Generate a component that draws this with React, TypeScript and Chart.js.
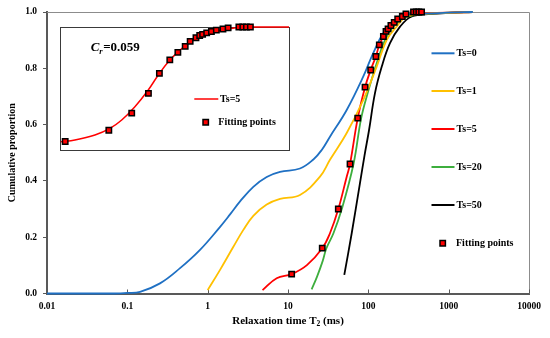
import React, { useEffect, useRef } from 'react';
import { Chart, registerables } from 'chart.js';

Chart.register(...registerables);

const FONT = "'Liberation Serif', 'Times New Roman', serif";

// ---- series labels / colours ----
const seriesLabels = ['Ts=0', 'Ts=1', 'Ts=5', 'Ts=20', 'Ts=50'];
const seriesColors = ['#1F70C3', '#FFC000', '#FF0000', '#3DAE3D', '#000000'];
const fitLabel = 'Fitting points';

// ---- Ts=0 ----
const ts0X = [0.01, 0.03, 0.07, 0.1, 0.144, 0.255, 0.453, 0.803, 1.42, 1.9, 2.53, 3.7, 5.43, 7.96, 14.1, 20.7, 26.3, 33.3, 53.8, 86.6, 115, 154, 205, 300, 500, 1000, 2000];
const ts0Y = [0, 0, 0, 0.002, 0.006, 0.036, 0.09, 0.155, 0.236, 0.281, 0.327, 0.379, 0.414, 0.432, 0.444, 0.476, 0.51, 0.557, 0.652, 0.771, 0.854, 0.925, 0.96, 0.99, 0.994, 0.998, 1.0];

// ---- Ts=1 ----
const ts1X = [1.0, 1.42, 2.08, 2.78, 3.7, 5.43, 7.96, 14.1, 25, 33.3, 53.8, 86.6, 127, 169, 225, 300, 500, 1000, 2000];
const ts1Y = [0.012, 0.083, 0.165, 0.226, 0.276, 0.316, 0.336, 0.35, 0.415, 0.475, 0.57, 0.688, 0.806, 0.9, 0.948, 0.984, 0.993, 0.997, 1.0];

// ---- Ts=5 ----
const ts5X = [4.82, 7.23, 11.1, 17.2, 26.7, 33.3, 42.3, 53.8, 59.2, 73.8, 91, 107, 124, 137, 154, 176, 210, 265, 350, 500, 1000, 2000];
const ts5Y = [0.012, 0.054, 0.069, 0.101, 0.161, 0.214, 0.30, 0.415, 0.46, 0.623, 0.733, 0.794, 0.842, 0.883, 0.913, 0.94, 0.963, 0.984, 0.993, 0.995, 0.998, 1.0];

// ---- Ts=20 ----
const ts20X = [19.7, 23, 27, 30, 36.8, 46.7, 65.4, 81.5, 100, 127, 161, 205, 286, 500, 1000, 2000];
const ts20Y = [0.015, 0.06, 0.115, 0.16, 0.214, 0.30, 0.46, 0.623, 0.72, 0.818, 0.9, 0.948, 0.98, 0.993, 0.998, 1.0];

// ---- Ts=50 ----
const ts50X = [50.2, 62.1, 78.7, 89.6, 102, 121, 147, 186, 248, 347, 600, 1000, 2000];
const ts50Y = [0.066, 0.214, 0.392, 0.49, 0.58, 0.712, 0.806, 0.889, 0.948, 0.984, 0.993, 0.997, 1.0];

// ---- fitting points ----
const fitX = [11.1, 26.7, 42.3, 59.2, 73.8, 91, 107, 124, 137, 154, 166, 176, 191, 210, 232, 265, 294, 365, 395, 425, 460];
const fitY = [0.069, 0.161, 0.30, 0.46, 0.623, 0.733, 0.794, 0.842, 0.883, 0.913, 0.931, 0.94, 0.952, 0.963, 0.975, 0.984, 0.993, 1, 1, 1, 1];

// ---- inset fitted curve (Ts=5) ----
const insetX = [10.2, 13.5, 20.2, 27.3, 34.6, 45.1, 59, 72.2, 88.4, 108, 132, 172, 225, 295, 386, 505, 1000];
const insetY = [0.067, 0.081, 0.122, 0.176, 0.244, 0.352, 0.488, 0.61, 0.718, 0.80, 0.867, 0.927, 0.962, 0.984, 0.998, 1.0, 1.0];
const insetCrText = '=0.059';

// ---- ticks / titles ----
const xTickValues = [0.01, 0.1, 1, 10, 100, 1000, 10000];
const xTickLabels = ['0.01', '0.1', '1', '10', '100', '1000', '10000'];
const yTickValues = [0, 0.2, 0.4, 0.6, 0.8, 1.0];
const yTickLabels = ['0.0', '0.2', '0.4', '0.6', '0.8', '1.0'];
const yTitle = 'Cumulative proportion';
const xTitleParts = ['Relaxation time T', '2', ' (ms)'];

const seriesX = [ts0X, ts1X, ts5X, ts20X, ts50X];
const seriesY = [ts0Y, ts1Y, ts5Y, ts20Y, ts50Y];

const toPts = (xs: number[], ys: number[]) => xs.map((x, i) => ({ x, y: ys[i] }));

const AXIS = '#595959';

function drawSquare(ctx: CanvasRenderingContext2D, x: number, y: number, side: number) {
  ctx.save();
  ctx.fillStyle = '#FF0000';
  ctx.strokeStyle = '#000';
  ctx.lineWidth = 1.5;
  ctx.beginPath();
  ctx.rect(x - side / 2, y - side / 2, side, side);
  ctx.fill();
  ctx.stroke();
  ctx.restore();
}

const mainDecor = {
  id: 'mainDecor',
  beforeDatasetsDraw(chart: any) {
    const { ctx, chartArea: a, scales } = chart;
    ctx.save();
    ctx.strokeStyle = '#8c8c8c';
    ctx.lineWidth = 1;
    ctx.beginPath();
    ctx.moveTo(a.left, Math.round(a.top) + 0.5);
    ctx.lineTo(Math.round(a.right) + 0.5, Math.round(a.top) + 0.5);
    ctx.lineTo(Math.round(a.right) + 0.5, a.bottom);
    ctx.stroke();
    ctx.strokeStyle = AXIS;
    ctx.beginPath();
    xTickValues.forEach((v) => {
      const px = Math.round(scales.x.getPixelForValue(v)) + 0.5;
      ctx.moveTo(px, a.bottom);
      ctx.lineTo(px, a.bottom - 4);
    });
    ctx.stroke();
    ctx.restore();
  },
  afterDatasetsDraw(chart: any) {
    const { ctx } = chart;
    const rows = [53.3, 91, 129, 167, 205];
    ctx.save();
    ctx.font = `bold 10px ${FONT}`;
    ctx.textBaseline = 'middle';
    ctx.fillStyle = '#000';
    seriesLabels.forEach((lab, i) => {
      ctx.strokeStyle = seriesColors[i];
      ctx.lineWidth = 2;
      ctx.beginPath();
      ctx.moveTo(431.5, rows[i]);
      ctx.lineTo(454.5, rows[i]);
      ctx.stroke();
      ctx.fillText(lab, 456.5, rows[i]);
    });
    drawSquare(ctx, 442.7, 243.3, 5.4);
    ctx.fillStyle = '#000';
    ctx.fillText(fitLabel, 456, 243.3);
    ctx.restore();
  },
  afterDraw(chart: any) {
    const { ctx, chartArea: a } = chart;
    ctx.save();
    ctx.fillStyle = '#000';
    ctx.textBaseline = 'middle';
    const big = `bold 11px ${FONT}`;
    const small = `bold 7.5px ${FONT}`;
    ctx.font = big;
    const w0 = ctx.measureText(xTitleParts[0]).width;
    const w2 = ctx.measureText(xTitleParts[2]).width;
    ctx.font = small;
    const w1 = ctx.measureText(xTitleParts[1]).width;
    const total = w0 + w1 + w2;
    const cx = (a.left + a.right) / 2;
    const y = 321;
    let x = cx - total / 2;
    ctx.font = big;
    ctx.fillText(xTitleParts[0], x, y);
    x += w0;
    ctx.font = small;
    ctx.fillText(xTitleParts[1], x, y + 3);
    x += w1;
    ctx.font = big;
    ctx.fillText(xTitleParts[2], x, y);
    ctx.restore();
  },
};

const insetDecor = {
  id: 'insetDecor',
  beforeDatasetsDraw(chart: any) {
    const { ctx, chartArea: a } = chart;
    ctx.save();
    ctx.fillStyle = '#fff';
    ctx.fillRect(a.left, a.top, a.right - a.left, a.bottom - a.top);
    ctx.strokeStyle = '#3a3a3a';
    ctx.lineWidth = 1;
    ctx.strokeRect(Math.round(a.left) + 0.5, Math.round(a.top) + 0.5, Math.round(a.right - a.left), Math.round(a.bottom - a.top));
    ctx.restore();
  },
  afterDatasetsDraw(chart: any) {
    const { ctx } = chart;
    ctx.save();
    ctx.fillStyle = '#000';
    ctx.textBaseline = 'alphabetic';
    let x = 38.7;
    const by = 31.7;
    ctx.font = `italic bold 13px ${FONT}`;
    ctx.fillText('C', x, by);
    x += ctx.measureText('C').width;
    ctx.font = `italic bold 8.5px ${FONT}`;
    ctx.fillText('r', x, by + 3);
    x += ctx.measureText('r').width + 0.5;
    ctx.font = `bold 13px ${FONT}`;
    ctx.fillText(insetCrText, x, by);
    ctx.textBaseline = 'middle';
    ctx.font = `bold 10px ${FONT}`;
    ctx.strokeStyle = seriesColors[2];
    ctx.lineWidth = 1.5;
    ctx.beginPath();
    ctx.moveTo(142.3, 80);
    ctx.lineTo(166.3, 80);
    ctx.stroke();
    ctx.fillText(seriesLabels[2], 168, 80);
    drawSquare(ctx, 153.7, 103.3, 5.4);
    ctx.fillStyle = '#000';
    ctx.fillText(fitLabel, 166.3, 103.3);
    ctx.restore();
  },
};

const pointStyleOpts = {
  showLine: false,
  pointStyle: 'rect',
  pointRadius: 3.8,
  pointHoverRadius: 3.8,
  pointBackgroundColor: '#FF0000',
  pointBorderColor: '#000000',
  pointBorderWidth: 1.5,
  clip: false,
};

export default function App() {
  const mainRef = useRef<HTMLCanvasElement>(null);
  const insetRef = useRef<HTMLCanvasElement>(null);

  useEffect(() => {
    const curveSets = seriesLabels.map((label, i) => ({
      label,
      data: toPts(seriesX[i], seriesY[i]),
      showLine: true,
      borderColor: seriesColors[i],
      backgroundColor: seriesColors[i],
      borderWidth: 1.8,
      pointRadius: 0,
      pointHoverRadius: 0,
      tension: 0.4,
      fill: false,
      clip: false,
      order: 1,
    }));

    const main = new Chart(mainRef.current as HTMLCanvasElement, {
      type: 'scatter',
      data: {
        datasets: [
          { label: fitLabel, data: toPts(fitX, fitY), order: 0, ...pointStyleOpts } as any,
          ...(curveSets as any[]),
        ],
      },
      options: {
        responsive: false,
        animation: false,
        devicePixelRatio: 1,
        layout: { padding: { top: 12, right: 21, left: 0, bottom: 0 } },
        plugins: { legend: { display: false }, tooltip: { enabled: false } },
        events: [],
        scales: {
          x: {
            type: 'logarithmic',
            min: 0.01,
            max: 10000,
            afterBuildTicks: (s: any) => {
              s.ticks = xTickValues.map((v) => ({ value: v }));
            },
            afterFit: (s: any) => {
              s.height = 44.5;
            },
            ticks: {
              autoSkip: false,
              maxRotation: 0,
              padding: 7,
              color: '#000',
              font: { family: FONT, size: 9.5, weight: 'bold' },
              callback: (_v: any, i: number) => xTickLabels[i],
            },
            grid: { drawOnChartArea: false, drawTicks: false },
            border: { color: AXIS, width: 2 },
          },
          y: {
            type: 'linear',
            min: 0,
            max: 1,
            afterBuildTicks: (s: any) => {
              s.ticks = yTickValues.map((v) => ({ value: v }));
            },
            afterFit: (s: any) => {
              s.width = 47;
            },
            ticks: {
              padding: 6,
              color: '#000',
              font: { family: FONT, size: 9.5, weight: 'bold' },
              callback: (_v: any, i: number) => yTickLabels[i],
            },
            grid: { drawOnChartArea: false, drawTicks: true, tickLength: 4, color: AXIS, lineWidth: 1 },
            border: { color: AXIS, width: 2 },
            title: {
              display: true,
              text: yTitle,
              color: '#000',
              padding: { top: 6, bottom: 0 },
              font: { family: FONT, size: 10, weight: 'bold' },
            },
          },
        },
      } as any,
      plugins: [mainDecor],
    });

    const inset = new Chart(insetRef.current as HTMLCanvasElement, {
      type: 'scatter',
      data: {
        datasets: [
          { label: fitLabel, data: toPts(fitX, fitY), order: 0, ...pointStyleOpts } as any,
          {
            label: seriesLabels[2],
            data: toPts(insetX, insetY),
            showLine: true,
            borderColor: seriesColors[2],
            borderWidth: 1.5,
            pointRadius: 0,
            pointHoverRadius: 0,
            tension: 0.4,
            clip: false,
            order: 1,
          } as any,
        ],
      },
      options: {
        responsive: false,
        animation: false,
        devicePixelRatio: 1,
        events: [],
        layout: { padding: { top: 8, left: 8, right: 8, bottom: 8 } },
        plugins: { legend: { display: false }, tooltip: { enabled: false } },
        scales: {
          x: { type: 'logarithmic', min: 10, max: 1000, display: false },
          y: { type: 'linear', min: 0, max: 1, display: false },
        },
      } as any,
      plugins: [insetDecor],
    });

    return () => {
      main.destroy();
      inset.destroy();
    };
  }, []);

  return (
    <div style={{ position: 'fixed', left: 0, top: 0, width: 550, height: 338, background: '#fff' }}>
      <canvas
        ref={mainRef}
        width={550}
        height={338}
        style={{ position: 'absolute', left: 0, top: 0, width: 550, height: 338, display: 'block' }}
      />
      <canvas
        ref={insetRef}
        width={245}
        height={139}
        style={{ position: 'absolute', left: 52, top: 19, width: 245, height: 139, display: 'block' }}
      />
    </div>
  );
}
